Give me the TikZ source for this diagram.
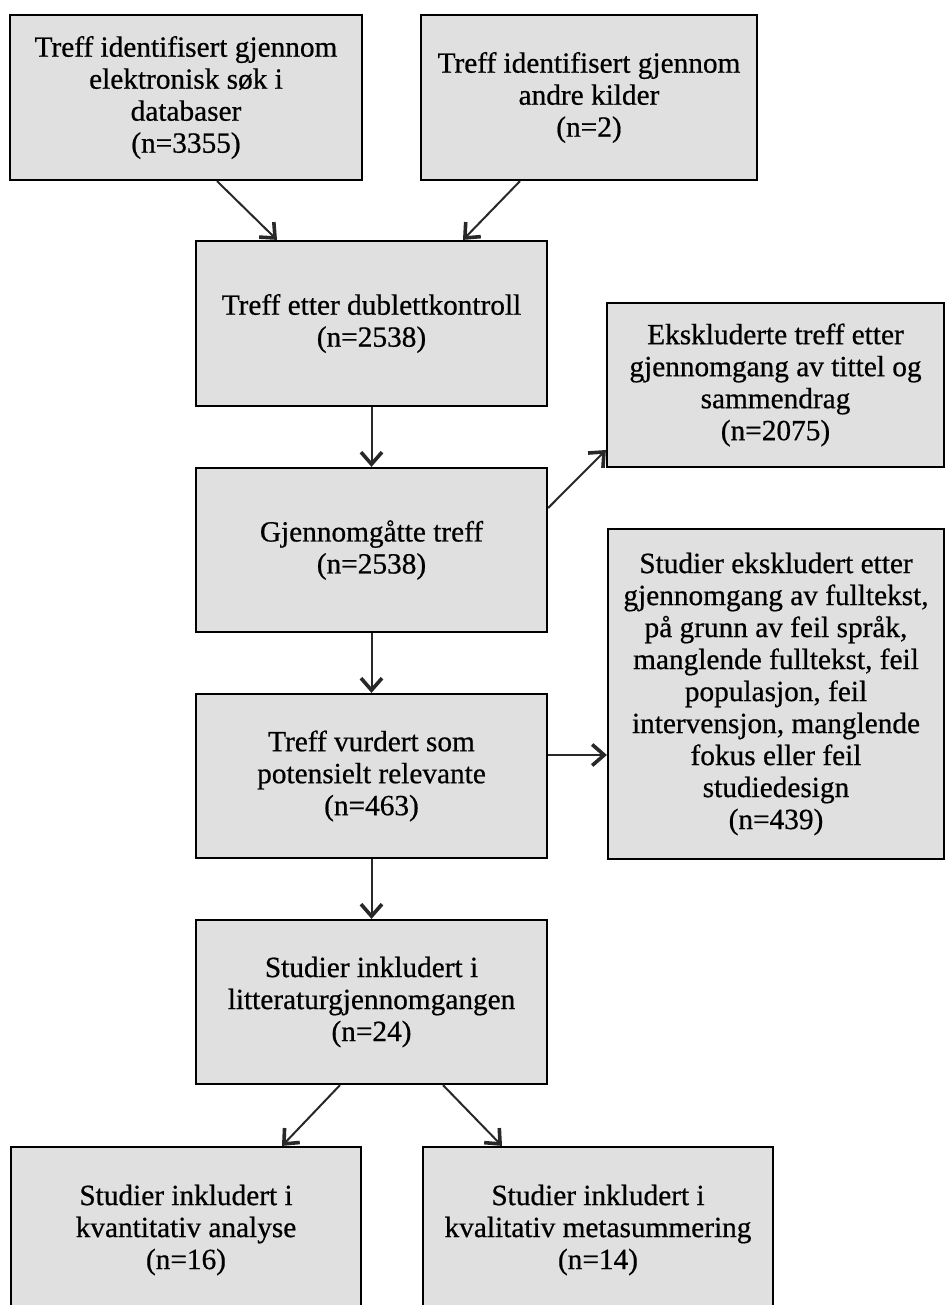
\documentclass[tikz,border=0pt]{standalone}
\usepackage{fontspec}
\setmainfont{Liberation Serif}
\newfontfamily\boxfont{Liberation Serif}[FakeBold=0.6]
\usetikzlibrary{arrows.meta}
\definecolor{boxfill}{RGB}{224,224,224}
\definecolor{linegray}{RGB}{40,40,40}
\tikzset{
  box/.style={draw=black, line width=2.2, fill=boxfill, rectangle, inner sep=0,
    align=center, font=\boxfont\fontsize{29.3}{32}\selectfont},
  flow/.style={draw=linegray, line width=2,
    -{Straight Barb[length=12,width=21,line width=3.6]}}
}
\begin{document}
\begin{tikzpicture}[x=1pt,y=-1pt]
\useasboundingbox (0,0) rectangle (946,1305);
\clip (0,0) rectangle (946,1305);
% boxes
\node[box, minimum width=352, minimum height=165] (b1) at (186,97.5)
  {Treff identifisert gjennom\\elektronisk søk i\\databaser\\(n=3355)};
\node[box, minimum width=336, minimum height=165] (b2) at (589,97.5)
  {Treff identifisert gjennom\\andre kilder\\(n=2)};
\node[box, minimum width=351, minimum height=165] (b3) at (371.5,323.5)
  {Treff etter dublettkontroll\\(n=2538)};
\node[box, minimum width=337, minimum height=164] (b5) at (775.5,385)
  {Ekskluderte treff etter\\gjennomgang av tittel og\\sammendrag\\(n=2075)};
\node[box, minimum width=351, minimum height=164] (b4) at (371.5,550)
  {Gjennomgåtte treff\\(n=2538)};
\node[box, minimum width=336, minimum height=330] (b7) at (776,694)
  {Studier ekskludert etter\\gjennomgang av fulltekst,\\på grunn av feil språk,\\manglende fulltekst, feil\\populasjon, feil\\intervensjon, manglende\\fokus eller feil\\studiedesign\\(n=439)};
\node[box, minimum width=351, minimum height=164] (b6) at (371.5,776)
  {Treff vurdert som\\potensielt relevante\\(n=463)};
\node[box, minimum width=351, minimum height=164] (b8) at (371.5,1002)
  {Studier inkludert i\\litteraturgjennomgangen\\(n=24)};
\node[box, minimum width=350, minimum height=166] (b9) at (186,1230)
  {Studier inkludert i\\kvantitativ analyse\\(n=16)};
\node[box, minimum width=350, minimum height=166] (b10) at (598,1230)
  {Studier inkludert i\\kvalitativ metasummering\\(n=14)};
% connectors
\draw[flow] ([xshift=31]b1.south) -- ([xshift=-94.5]b3.north);
\draw[flow] ([xshift=-69]b2.south) -- ([xshift=91.5]b3.north);
\draw[flow] (b3.south) -- (b4.north);
\draw[flow] ([yshift=42]b4.east) -- ([yshift=-65]b5.west);
\draw[flow] (b4.south) -- (b6.north);
\draw[flow] ([yshift=21]b6.east) -- ([yshift=-61]b7.west);
\draw[flow] (b6.south) -- (b8.north);
\draw[flow] ([xshift=-31.5]b8.south) -- ([xshift=96]b9.north);
\draw[flow] ([xshift=71.5]b8.south) -- ([xshift=-96]b10.north);
\end{tikzpicture}
\end{document}
